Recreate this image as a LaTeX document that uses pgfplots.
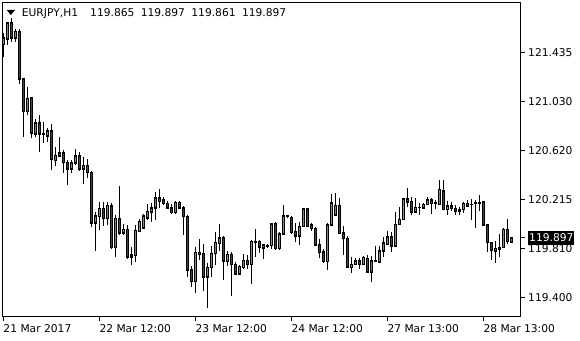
\documentclass[border=0pt]{standalone}
\usepackage{pgfplots}
\pgfplotsset{compat=1.18}
\usepackage{pgfplotstable}
\usepackage{fontspec}
\setmainfont{DejaVu Sans}
\definecolor{bullc}{rgb}{0,0.9,0}
\definecolor{bearc}{rgb}{0.9,0,0}
\newcommand{\mtfont}{\fontsize{10.7bp}{12bp}\selectfont}
\pgfplotstableread{
x O H L C G
0 121.507 121.599 121.399 121.557 1
1 121.549 121.690 121.499 121.682 1
2 121.682 121.723 121.524 121.557 0
3 121.557 121.632 121.524 121.611 1
4 121.615 121.632 121.175 121.217 0
5 121.217 121.221 120.735 120.947 0
6 120.947 121.154 120.918 121.055 1
7 121.059 121.071 120.731 120.768 0
8 120.760 120.888 120.739 120.855 1
9 120.855 120.918 120.614 120.760 0
10 120.760 120.859 120.685 120.756 0
11 120.747 120.814 120.697 120.785 1
12 120.785 120.843 120.465 120.548 0
13 120.540 120.652 120.494 120.585 1
14 120.581 120.735 120.569 120.602 1
15 120.602 120.631 120.436 120.527 0
16 120.527 120.540 120.336 120.469 0
17 120.469 120.548 120.436 120.519 1
18 120.519 120.639 120.506 120.577 1
19 120.577 120.614 120.452 120.469 0
20 120.473 120.569 120.344 120.502 1
21 120.502 120.552 120.398 120.444 0
22 120.444 120.452 119.992 120.021 0
23 120.021 120.112 119.784 120.079 1
24 120.075 120.195 119.962 120.141 1
25 120.141 120.195 119.996 120.062 0
26 120.062 120.199 120.004 120.170 1
27 120.162 120.187 119.805 119.821 0
28 119.821 120.087 119.742 120.058 1
29 120.058 120.328 119.925 119.938 0
30 119.938 120.016 119.921 119.967 1
31 119.967 120.004 119.726 119.742 0
32 119.755 119.825 119.676 119.742 0
33 119.751 120.004 119.701 119.962 1
34 119.954 120.058 119.950 120.037 1
35 119.983 120.099 119.975 120.079 1
36 120.066 120.183 120.045 120.120 1
37 120.116 120.183 120.033 120.149 1
38 120.149 120.282 120.045 120.232 1
39 120.232 120.299 120.149 120.203 0
40 120.212 120.237 120.170 120.184 0
41 120.183 120.203 120.141 120.149 0
42 120.149 120.183 120.099 120.108 0
43 120.108 120.203 120.099 120.191 1
44 120.191 120.206 120.143 120.149 0
45 120.149 120.162 119.921 120.075 0
46 120.075 120.087 119.576 119.634 0
47 119.634 119.663 119.485 119.535 0
48 119.535 119.825 119.443 119.776 1
49 119.776 119.892 119.717 119.763 0
50 119.767 119.846 119.456 119.576 0
51 119.576 119.688 119.319 119.655 1
52 119.655 119.834 119.576 119.771 1
53 119.771 119.950 119.672 119.859 1
54 119.854 120.012 119.792 119.900 1
55 119.900 119.913 119.551 119.709 0
56 119.701 119.792 119.663 119.763 1
57 119.763 119.784 119.414 119.676 0
58 119.676 119.701 119.589 119.597 0
59 119.597 119.672 119.589 119.663 1
60 119.651 119.763 119.643 119.713 1
61 119.713 119.755 119.634 119.676 0
62 119.676 119.879 119.514 119.867 1
63 119.859 119.975 119.738 119.871 1
64 119.867 119.884 119.776 119.825 0
65 119.817 119.850 119.722 119.842 1
66 119.832 119.846 119.815 119.834 1
67 119.834 120.025 119.809 120.016 1
68 120.016 120.033 119.796 119.809 0
69 119.809 119.950 119.796 119.933 1
70 119.933 120.170 119.929 120.079 1
71 120.075 120.087 120.062 120.079 1
72 120.066 120.079 119.933 119.942 0
73 119.950 120.025 119.867 119.913 0
74 119.913 120.025 119.834 119.992 1
75 119.992 120.143 119.985 120.137 1
76 120.137 120.145 119.987 119.992 0
77 120.004 120.025 119.958 119.975 0
78 119.975 119.987 119.830 119.838 0
79 119.838 119.885 119.727 119.776 0
80 119.780 119.809 119.692 119.701 0
81 119.701 120.018 119.630 120.004 1
82 120.004 120.259 119.996 120.189 1
83 120.087 120.272 120.079 120.170 1
84 120.170 120.226 119.929 119.935 0
85 119.938 119.996 119.755 119.894 0
86 119.894 119.913 119.653 119.658 0
87 119.653 119.736 119.603 119.680 1
88 119.680 119.727 119.672 119.707 1
89 119.707 119.730 119.639 119.680 0
90 119.680 119.746 119.672 119.736 1
91 119.727 119.755 119.608 119.616 0
92 119.616 119.746 119.533 119.707 1
93 119.707 119.830 119.699 119.709 1
94 119.699 119.830 119.691 119.788 1
95 119.788 119.907 119.736 119.857 1
96 119.846 119.954 119.838 119.907 1
97 119.907 119.948 119.782 119.830 0
98 119.830 120.114 119.824 120.012 1
99 120.012 120.151 120.004 120.051 1
100 120.051 120.226 120.045 120.220 1
101 120.220 120.309 120.153 120.197 0
102 120.203 120.234 120.087 120.114 0
103 120.114 120.228 120.106 120.151 1
104 120.151 120.184 120.087 120.153 1
105 120.148 120.189 120.134 120.176 1
106 120.176 120.234 120.170 120.212 1
107 120.212 120.226 120.093 120.184 0
108 120.184 120.212 120.134 120.187 1
109 120.176 120.378 120.170 120.300 1
110 120.289 120.378 120.129 120.134 0
111 120.134 120.206 120.087 120.162 1
112 120.162 120.197 120.123 120.143 0
113 120.143 120.170 120.087 120.123 0
114 120.123 120.156 120.087 120.134 1
115 120.134 120.197 120.101 120.184 1
116 120.184 120.212 120.151 120.164 0
117 120.176 120.217 120.045 120.178 1
118 120.184 120.212 119.983 120.187 1
119 120.189 120.253 120.123 120.192 1
120 120.195 120.203 119.996 120.004 0
121 120.004 120.008 119.782 119.860 0
122 119.860 119.865 119.719 119.796 0
123 119.791 119.871 119.691 119.810 1
124 119.807 119.927 119.736 119.819 1
125 119.819 119.977 119.810 119.968 1
126 119.968 120.051 119.846 119.871 0
127 119.865 119.897 119.861 119.897 1
}\candles
\pgfplotsset{
  candlepart/.style={draw=none, no markers, forget plot,
    error bars/.cd, y dir=both, y explicit, error mark=none,
    error bar style={#1}},
}
\begin{document}
\begin{tikzpicture}[x=1bp,y=1bp]
\useasboundingbox (0,0) rectangle (580,340);
\begin{axis}[
  at={(2bp,23.5bp)}, anchor=south west,
  scale only axis, width=518.7bp, height=314.5bp,
  xmin=-0.325, xmax=129.35, ymin=119.244, ymax=121.856,
  axis line style={black, line width=0.8bp},
  tick align=outside, major tick length=4bp,
  major tick style={black, line width=0.8bp},
  xtick pos=bottom, ytick pos=right, yticklabel pos=right,
  xtick={0,24,48,72,96,120},
  xticklabels={21 Mar 2017, 22 Mar 12:00, 23 Mar 12:00, 24 Mar 12:00, 27 Mar 13:00, 28 Mar 13:00},
  ytick={119.400,119.810,120.215,120.620,121.030,121.435},
  yticklabels={119.400,119.810,120.215,120.620,121.030,121.435},
  xticklabel style={font=\mtfont, anchor=base west, inner sep=0pt, yshift=-11.5bp},
  yticklabel style={font=\mtfont, anchor=west, inner sep=0pt, xshift=3.3bp},
  extra y ticks={119.897}, extra y tick labels={119.897},
  extra y tick style={yticklabel style={fill=black, text=white, inner xsep=1bp, inner ysep=3bp}},
]
% wicks
\addplot[candlepart={color=black, line width=1bp}]
  table[x=x, y expr={(\thisrow{H}+\thisrow{L})/2},
        y error expr={(\thisrow{H}-\thisrow{L})/2}] {\candles};
% body outlines
\addplot[candlepart={color=black, line width=3.4bp}]
  table[x=x, y expr={(\thisrow{O}+\thisrow{C})/2},
        y error expr={max(abs(\thisrow{C}-\thisrow{O})/2,0.0042)}] {\candles};
% bull fill
\addplot[color=bullc, candlepart={color=bullc, line width=1.4bp}]
  table[x=x, y expr={(\thisrow{O}+\thisrow{C})/2},
        y error expr={\thisrow{G}*abs(\thisrow{C}-\thisrow{O})/2}] {\candles};
% bear fill
\addplot[color=bearc, candlepart={color=bearc, line width=1.4bp}]
  table[x=x, y expr={(\thisrow{O}+\thisrow{C})/2},
        y error expr={(1-\thisrow{G})*abs(\thisrow{C}-\thisrow{O})/2}] {\candles};
% body top and bottom edges
\addplot[candlepart={color=black, line width=3.4bp}]
  table[x=x, y=O, y error expr=0.0042] {\candles};
\addplot[candlepart={color=black, line width=3.4bp}]
  table[x=x, y=C, y error expr=0.0042] {\candles};
\end{axis}
\fill (6.7,330) -- (15,330) -- (10.85,325) -- cycle;
\begin{scope}[every node/.style={anchor=base west, inner sep=0pt, font=\mtfont}]
\node at (21.7,323.5) {EURJPY,H1};
\node at (90,323.5) {119.865};
\node at (140.6,323.5) {119.897};
\node at (191.2,323.5) {119.861};
\node at (241.8,323.5) {119.897};
\end{scope}
\end{tikzpicture}
\end{document}
